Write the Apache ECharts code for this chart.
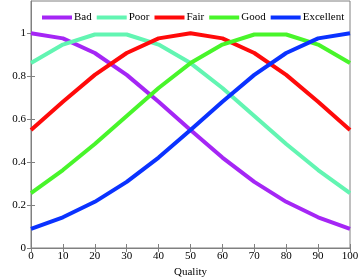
<!DOCTYPE html>
<html>
<head>
<meta charset="utf-8">
<script src="https://cdn.jsdelivr.net/npm/echarts@6/dist/echarts.min.js"></script>
<style>html,body{margin:0;padding:0;background:#fff}#c{width:358px;height:277px}</style>
</head>
<body>
<div id="c"></div>
<script>
const quality = [0, 10, 20, 30, 40, 50, 60, 70, 80, 90, 100];
const bad = [1.0, 0.976, 0.908, 0.806, 0.681, 0.549, 0.421, 0.308, 0.215, 0.143, 0.089];
const poor = [0.861, 0.947, 0.994, 0.994, 0.947, 0.861, 0.745, 0.615, 0.484, 0.363, 0.255];
const fair = [0.549, 0.681, 0.806, 0.908, 0.976, 1.0, 0.976, 0.908, 0.806, 0.681, 0.549];
const good = [0.255, 0.363, 0.484, 0.615, 0.745, 0.861, 0.947, 0.994, 0.994, 0.947, 0.861];
const excellent = [0.089, 0.143, 0.215, 0.308, 0.421, 0.549, 0.681, 0.806, 0.908, 0.976, 1.0];
const yTicks = [0, 0.2, 0.4, 0.6, 0.8, 1];
const seriesNames = ['Bad', 'Poor', 'Fair', 'Good', 'Excellent'];
const seriesData = [bad, poor, fair, good, excellent];
const colors = ['#a526f5', '#62f5b2', '#ff0a0a', '#48f52a', '#0a32ff'];

const font = '"Liberation Serif", "DejaVu Serif", serif';
const chart = echarts.init(document.getElementById('c'), null, {renderer: 'canvas'});
const tickStyle = {show: true, inside: true, length: 4, lineStyle: {color: '#808080', width: 1}};
chart.setOption({
  animation: false,
  grid: {left: 31, right: 8, top: 1, bottom: 29, outerBoundsMode: 'none', containLabel: false,
         show: true, borderColor: '#808080', borderWidth: 1, backgroundColor: '#fff'},
  legend: {
    data: seriesNames,
    top: 7, left: 37, width: 330,
    icon: 'rect', itemWidth: 30, itemHeight: 4, itemGap: 5,
    textStyle: {fontFamily: font, fontSize: 11, color: '#000', padding: [0, 0, 0, -3]}
  },
  xAxis: [{
    type: 'value', min: 0, max: 100, interval: 10,
    name: 'Quality', nameLocation: 'middle', nameGap: 14,
    nameTextStyle: {fontFamily: font, fontSize: 11, color: '#000'},
    axisLine: {show: true, lineStyle: {color: '#808080'}},
    axisTick: tickStyle,
    axisLabel: {fontFamily: font, fontSize: 11, color: '#000', margin: 3},
    splitLine: {show: false}
  }, {
    type: 'value', min: 0, max: 100, interval: 10, position: 'top',
    axisLine: {show: false}, axisTick: tickStyle, axisLabel: {show: false}, splitLine: {show: false}
  }],
  yAxis: [{
    type: 'value', min: 0, max: 1.15,
    name: 'True Value', nameLocation: 'middle', nameGap: 20,
    nameTextStyle: {fontFamily: font, fontSize: 10, color: '#000'},
    axisLine: {show: true, lineStyle: {color: '#808080'}},
    axisTick: Object.assign({customValues: yTicks}, tickStyle),
    axisLabel: {fontFamily: font, fontSize: 11, color: '#000', margin: 5, customValues: yTicks},
    splitLine: {show: false}
  }, {
    type: 'value', min: 0, max: 1.15, position: 'right',
    axisLine: {show: false}, axisTick: Object.assign({customValues: yTicks}, tickStyle),
    axisLabel: {show: false, customValues: yTicks}, splitLine: {show: false}
  }],
  series: seriesNames.map((n, i) => ({
    name: n, type: 'line', xAxisIndex: 0, yAxisIndex: 0,
    data: quality.map((q, j) => [q, seriesData[i][j]]),
    showSymbol: false, symbol: 'none',
    lineStyle: {width: 4, color: colors[i]}, itemStyle: {color: colors[i]},
    clip: true
  }))
});
</script>
</body>
</html>
